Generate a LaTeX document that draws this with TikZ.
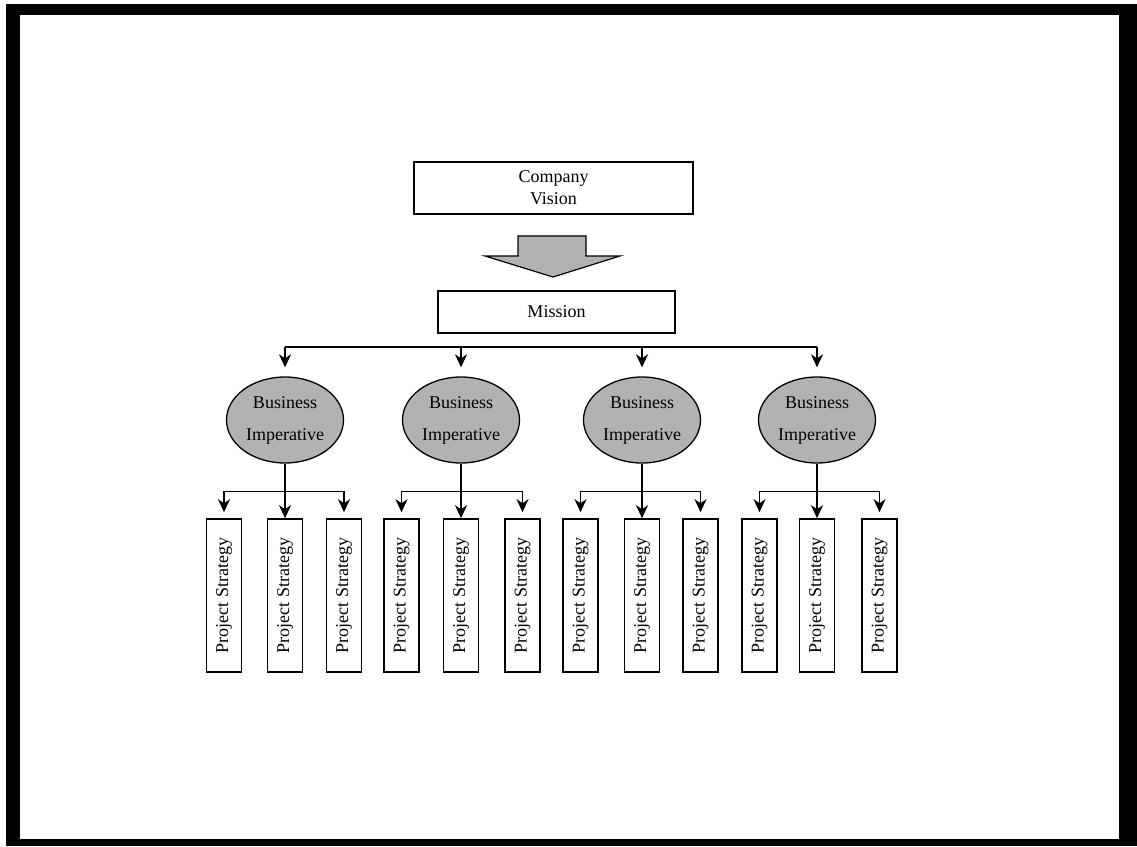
\documentclass[tikz,border=0pt]{standalone}
\usepackage{fontspec}
\setmainfont{Liberation Serif}
\usetikzlibrary{arrows.meta,shapes.geometric}
\definecolor{fillgray}{RGB}{178,178,178}
\begin{document}
\begin{tikzpicture}[x=1pt,y=-1pt,
  box/.style={draw=black,line width=1.6pt,fill=white,inner sep=0pt,align=center,
    font=\fontsize{18}{22}\selectfont},
  imp/.style={ellipse,draw=black,line width=1.3pt,fill=fillgray,inner sep=0pt,
    minimum width=117pt,minimum height=86pt,align=center,
    font=\fontsize{18}{32}\selectfont},
  psbox/.style={draw=black,line width=1.6pt,fill=white,inner sep=0pt,rotate=90,
    minimum width=153pt,minimum height=35pt,font=\fontsize{18}{22}\selectfont},
  conn/.style={line width=1.6pt,draw=black},
  arr/.style={conn,-{Stealth[length=13pt,width=12pt,inset=4pt]}}
]
\useasboundingbox (0,0) rectangle (1137,846);
% frame
\fill[black] (6,4) rectangle (1137,846);
\fill[white] (20,15) rectangle (1119,839);

% top boxes
\node[box,minimum width=279pt,minimum height=52pt] (vision) at (553.5,188) {Company\\Vision};
\node[box,minimum width=237pt,minimum height=42pt] (mission) at (556.5,312) {Mission};

% big arrow
\draw[line width=1.2pt,fill=fillgray,line join=miter]
  (518,236) -- (586,236) -- (586,256) -- (620,256) -- (553,277) -- (485,256) -- (518,256) -- cycle;

% business imperatives
\node[imp] (e1) at (285,420) {Business\\Imperative};
\node[imp] (e2) at (461,420) {Business\\Imperative};
\node[imp] (e3) at (642,420) {Business\\Imperative};
\node[imp] (e4) at (817,420) {Business\\Imperative};

% project strategies
\foreach \g/\a/\b/\c in {1/224/285/344, 2/401.5/461/522.5, 3/580.5/642/700.5, 4/759.5/817/879.5}{
  \node[psbox] (b\g1) at (\a,595.5) {Project Strategy};
  \node[psbox] (b\g2) at (\b,595.5) {Project Strategy};
  \node[psbox] (b\g3) at (\c,595.5) {Project Strategy};
}

% mission bus
\path (mission.south) ++(0,13) coordinate (bus);
\draw[conn] (e1.north |- bus) -- (e4.north |- bus);
\foreach \i in {1,2,3,4}{
  \draw[arr,shorten >=9pt] (e\i.north |- bus) -- (e\i.north);
}

% imperative to strategies
\foreach \g in {1,2,3,4}{
  \path (e\g.south) ++(0,28) coordinate (j\g);
  \draw[arr] (e\g.south) -- (e\g.south |- b\g2.east);
  \draw[arr,shorten >=6pt] (j\g) -| (b\g1.east);
  \draw[arr,shorten >=6pt] (j\g) -| (b\g3.east);
}
\end{tikzpicture}
\end{document}
